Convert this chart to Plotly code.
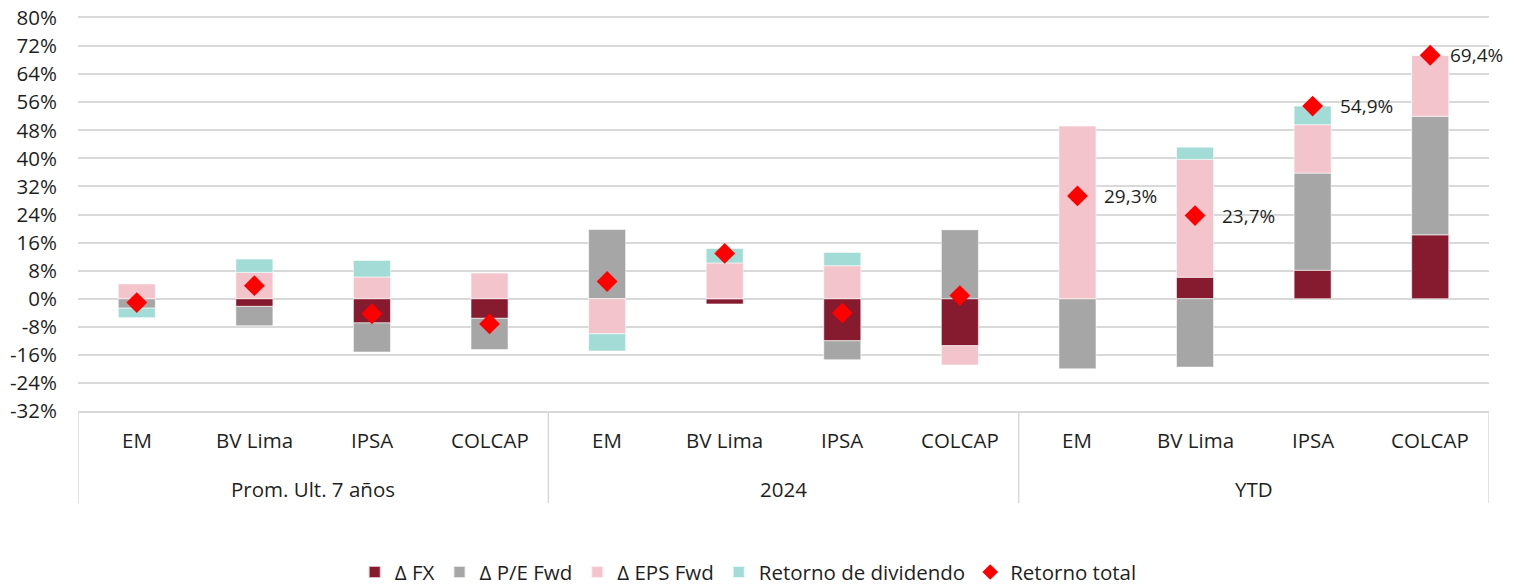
import plotly.graph_objects as go

# ---- data (percent) ----
groups = ["Prom. Ult. 7 años", "2024", "YTD"]
subcats = ["EM", "BV Lima", "IPSA", "COLCAP"]

fx    = [0.0, -2.2, -6.9, -5.6,   0.0, -1.5, -12.0, -13.4,   0.0,   6.1,  8.1, 18.2]
pe    = [-2.7, -5.5, -8.3, -8.9, 19.7,  0.0,  -5.4,  19.7, -20.0, -19.5, 27.7, 33.8]
eps   = [4.2, 7.5, 6.2, 7.4,   -10.0, 10.2,   9.4,  -5.5,  49.3,  33.6, 13.8, 17.4]
div   = [-2.7, 3.8, 4.7, 0.0,   -4.9,  4.1,   3.8,   0.0,   0.0,   3.5,  5.3,  0.0]
total = [-1.1, 3.7, -4.3, -7.2,  4.9, 12.9,  -4.1,   0.9,  29.3,  23.7, 54.9, 69.4]
labeled_groups = ["YTD"]

series_names = ["Δ FX", "Δ P/E Fwd", "Δ EPS Fwd", "Retorno de dividendo"]
series_vals = [fx, pe, eps, div]
series_colors = ["#861A2F", "#A6A6A6", "#F3C4CC", "#A3DCD6"]

yticks = list(range(-32, 81, 8))

FONT = "Open Sans"
TXT = "#1f1f1f"
GRID = "#D9D9D9"

n_sub = len(subcats)
xs = list(range(len(groups) * n_sub))
group_of = [g for g in groups for _ in subcats]
sub_of = [s for _ in groups for s in subcats]

fig = go.Figure()
for name, vals, col in zip(series_names, series_vals, series_colors):
    fig.add_trace(go.Bar(
        x=xs, y=vals, name=name, width=0.315,
        marker=dict(color=col, line=dict(color="rgba(255,255,255,0.7)", width=0.8)),
    ))

fig.add_trace(go.Scatter(
    x=xs, y=total, name="Retorno total", mode="markers",
    marker=dict(symbol="diamond", size=16, color="#FF0000", line=dict(width=0)),
))

annotations = []
# data labels
for x, g, v in zip(xs, group_of, total):
    if g in labeled_groups:
        last = x == xs[-1]
        annotations.append(dict(
            x=x, y=v, xref="x", yref="y", text=f"{v:.1f}%".replace(".", ","),
            showarrow=False, xanchor="left", yanchor="middle", xshift=18 if last else 25,
            font=dict(family=FONT, size=19, color=TXT),
        ))
# sub-category labels
for x, s in zip(xs, sub_of):
    annotations.append(dict(
        x=x, y=-0.075, xref="x", yref="paper", text=s, showarrow=False,
        xanchor="center", yanchor="middle", font=dict(family=FONT, size=20.5, color=TXT),
    ))
# group labels
shapes = []
for gi, g in enumerate(groups):
    center = gi * n_sub + (n_sub - 1) / 2
    annotations.append(dict(
        x=center, y=-0.198, xref="x", yref="paper", text=g, showarrow=False,
        xanchor="center", yanchor="middle", font=dict(family=FONT, size=20.5, color=TXT),
    ))
for gi in range(len(groups) + 1):
    bx = gi * n_sub - 0.5
    shapes.append(dict(type="line", xref="x", yref="paper", x0=bx, x1=bx, y0=0, y1=-0.234,
                       line=dict(color=GRID, width=1.5)))

# page body has an 8px default margin, so the figure is sized to fit the window
fig.update_layout(
    width=1514, height=579,
    margin=dict(l=70, r=33, t=10, b=176, autoexpand=False),
    paper_bgcolor="white", plot_bgcolor="white",
    barmode="relative",
    font=dict(family=FONT, size=20.5, color=TXT),
    showlegend=True,
    legend=dict(orientation="h", x=0.475, xanchor="center", y=-0.41, yanchor="middle",
                font=dict(family=FONT, size=20.5, color=TXT), itemsizing="constant",
                traceorder="normal"),
    annotations=annotations,
    shapes=shapes,
)
fig.update_xaxes(range=[-0.5, len(xs) - 0.5], showticklabels=False, showgrid=False,
                 zeroline=False, showline=True, mirror=True, linecolor=GRID, linewidth=1.5,
                 ticks="", automargin=False)
fig.update_yaxes(range=[yticks[0] - 0.02, yticks[-1] + 0.02], tickvals=yticks,
                 ticktext=[f"{t}%" for t in yticks],
                 showgrid=True, gridcolor=GRID, gridwidth=1.5, zeroline=False,
                 showline=False, ticks="", ticklabelstandoff=20, automargin=False,
                 ticklabeloverflow="allow",
                 tickfont=dict(family=FONT, size=20.5, color=TXT))

fig.write_html("out.html")
